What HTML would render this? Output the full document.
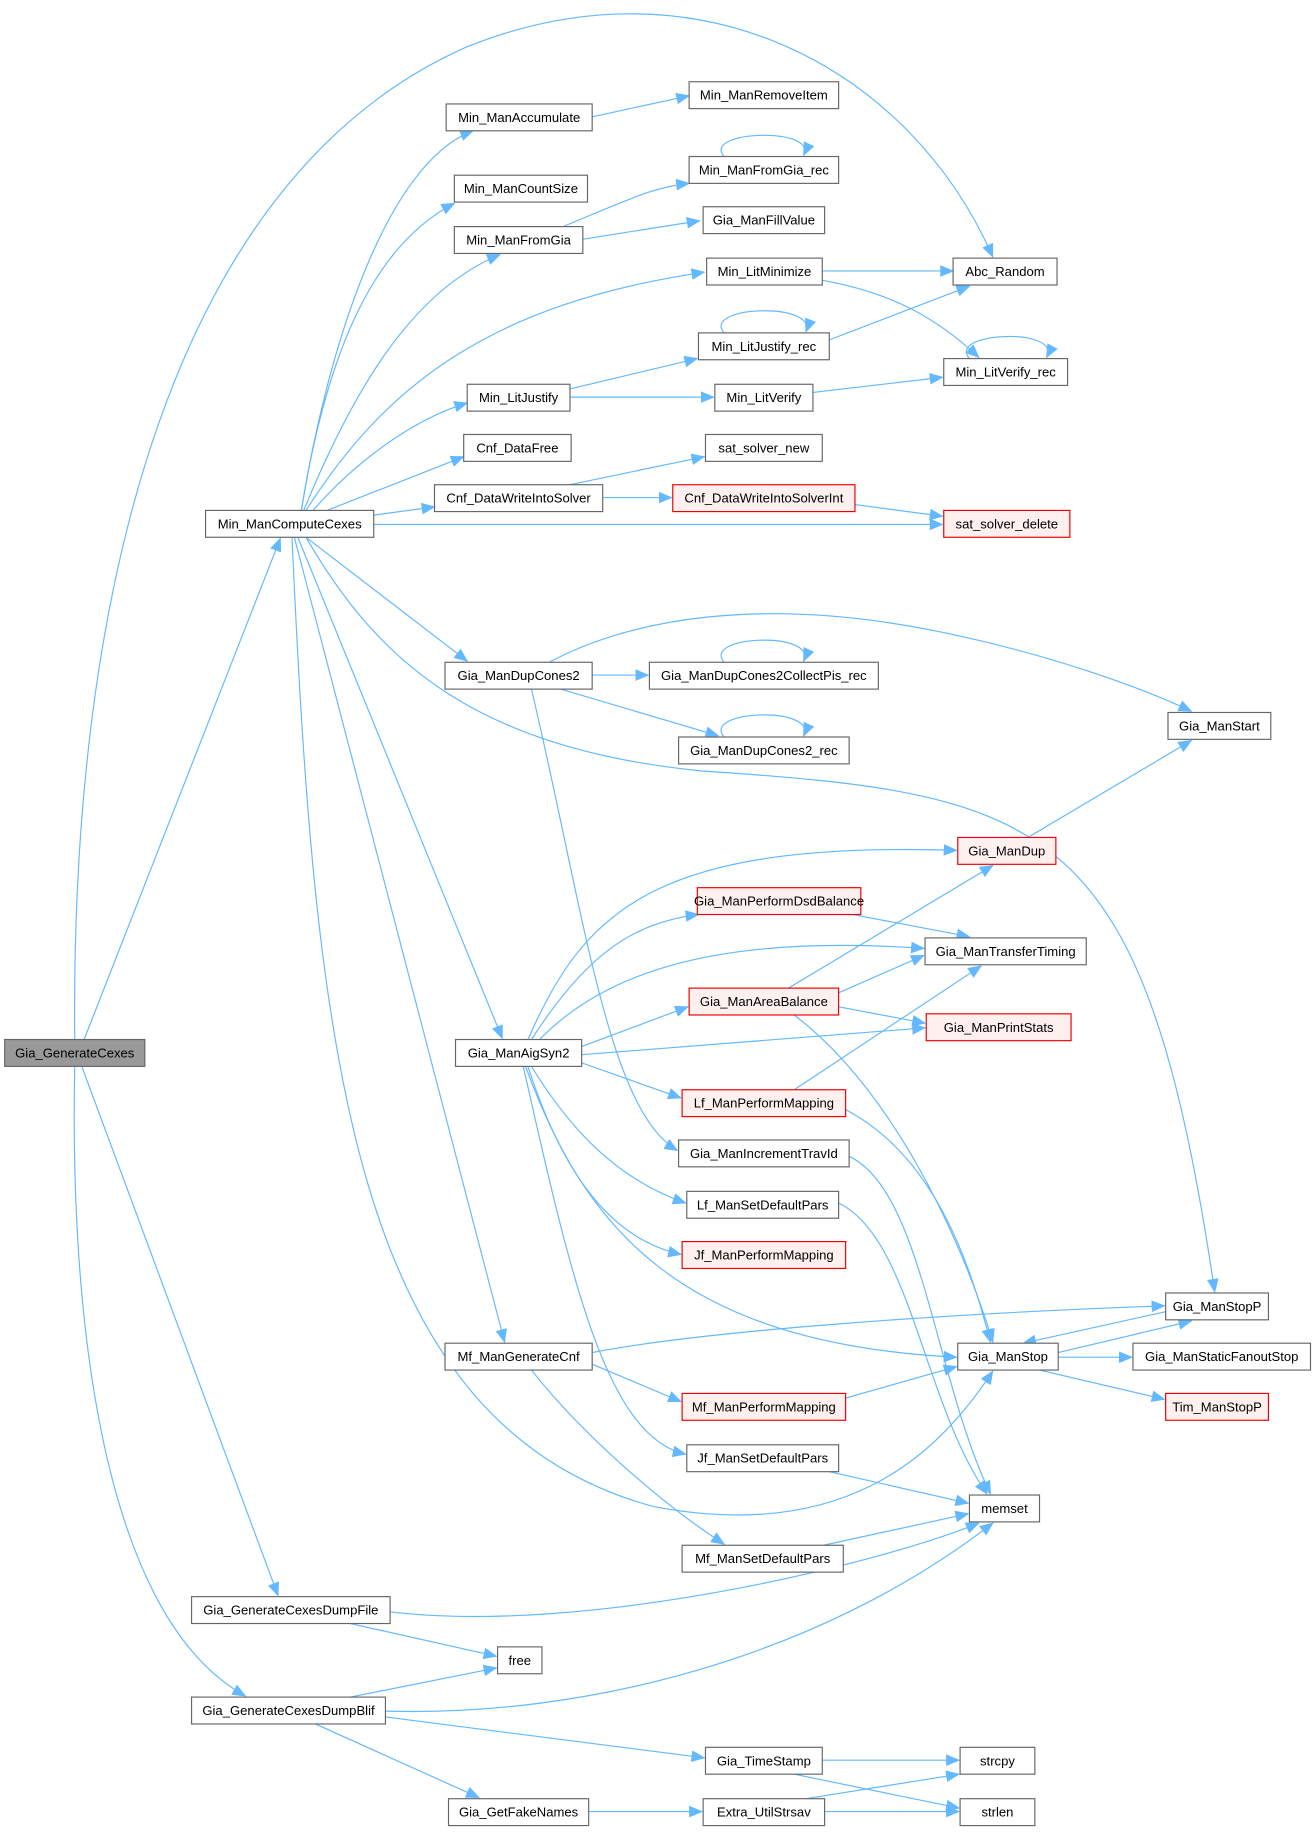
<!DOCTYPE html>
<html><head><meta charset="utf-8"><style>
html,body{margin:0;padding:0;background:#fff;}
svg{display:block;}
text{font-family:"Liberation Sans",Arial,sans-serif;font-size:11.2px;fill:#000;text-anchor:middle;dominant-baseline:central;}
.n{fill:#fff;stroke:#666;stroke-width:1;}
.r{fill:#fff0f0;stroke:#e00;stroke-width:1;}
.g{fill:#999;stroke:#666;stroke-width:1;}
path{fill:none;stroke:#63b8ff;stroke-width:1;}
</style></head><body>
<svg width="1314" height="1832" viewBox="0 0 1125 1568.5" xmlns="http://www.w3.org/2000/svg">
<defs><marker id="a" markerWidth="12" markerHeight="10" refX="11" refY="5" orient="auto" markerUnits="userSpaceOnUse"><polygon points="0,0 12,5 0,10" fill="#63b8ff"/></marker></defs>
<g marker-end="url(#a)">
<path d="M64,890 C60,500 150,150 400,40 C600,-40 780,60 850,220"/>
<path d="M72,890 L240,461"/>
<path d="M70,913 L238,1366"/>
<path d="M64,913 C60,1100 80,1380 210,1452"/>
<path d="M258,437 C280,300 330,140 405,112"/>
<path d="M258,437 C280,300 320,210 389,174"/>
<path d="M260,437 C300,340 350,250 428,218"/>
<path d="M262,437 C330,330 420,260 603,233"/>
<path d="M268,437 C300,400 350,360 400,345"/>
<path d="M280,437 L397,391"/>
<path d="M320,441 L372,434"/>
<path d="M320,449 L807,449"/>
<path d="M262,460 L400,566"/>
<path d="M262,460 C320,560 400,640 600,660 C900,680 980,700 1040,1106"/>
<path d="M255,460 L430,889"/>
<path d="M252,460 L432,1149"/>
<path d="M250,460 C270,900 300,1220 560,1290 C720,1320 800,1250 850,1174"/>
<path d="M507,100 L590,82"/>
<path d="M482,194 C540,170 560,160 590,157"/>
<path d="M498,205 L599,189"/>
<path d="M620,134 C600,112 700,108 688,133"/>
<path d="M704,232 L816,232"/>
<path d="M704,240 C760,250 800,270 838,306"/>
<path d="M620,285 C600,262 700,258 690,284"/>
<path d="M710,291 L830,245"/>
<path d="M488,333 L597,307"/>
<path d="M488,340 L611,340"/>
<path d="M830,307 C810,284 910,280 896,306"/>
<path d="M696,336 L807,323"/>
<path d="M488,415 L603,391"/>
<path d="M516,426 L575,426"/>
<path d="M732,432 L807,442"/>
<path d="M470,567 C540,530 650,510 800,540 C900,560 980,590 1020,609"/>
<path d="M507,578 L555,578"/>
<path d="M480,590 L615,630"/>
<path d="M620,567 C600,544 700,540 688,566"/>
<path d="M620,631 C600,608 700,604 688,630"/>
<path d="M455,590 C500,780 520,950 580,985"/>
<path d="M880,717 L1020,634"/>
<path d="M452,890 C500,780 560,720 819,728"/>
<path d="M455,890 C500,820 540,790 598,783"/>
<path d="M462,890 C520,830 620,800 791,812"/>
<path d="M498,896 L589,862"/>
<path d="M498,903 L792,880"/>
<path d="M498,910 L583,940"/>
<path d="M455,913 C490,970 530,1010 587,1030"/>
<path d="M452,913 C480,1000 520,1060 583,1074"/>
<path d="M450,913 C500,1050 580,1150 819,1162"/>
<path d="M448,913 C490,1100 520,1230 587,1245"/>
<path d="M730,783 L830,802"/>
<path d="M675,846 L850,741"/>
<path d="M718,850 L791,818"/>
<path d="M718,862 L792,876"/>
<path d="M680,869 C760,930 820,1050 850,1149"/>
<path d="M680,933 L840,827"/>
<path d="M724,950 C800,990 830,1080 848,1149"/>
<path d="M727,990 C790,1020 800,1180 848,1279"/>
<path d="M718,1030 C780,1060 790,1200 845,1279"/>
<path d="M998,1123 L876,1150"/>
<path d="M906,1158 L1020,1131"/>
<path d="M906,1162 L969,1162"/>
<path d="M890,1173 L997,1198"/>
<path d="M507,1158 C600,1140 800,1125 997,1118"/>
<path d="M507,1168 L583,1200"/>
<path d="M455,1173 C500,1230 570,1290 620,1322"/>
<path d="M724,1197 L819,1170"/>
<path d="M710,1260 L829,1287"/>
<path d="M705,1323 L829,1296"/>
<path d="M334,1380 C500,1400 750,1340 838,1304"/>
<path d="M300,1390 L425,1418"/>
<path d="M300,1453 L425,1428"/>
<path d="M330,1465 C500,1470 700,1420 850,1304"/>
<path d="M330,1470 L603,1505"/>
<path d="M270,1476 L410,1539"/>
<path d="M704,1507 L821,1507"/>
<path d="M680,1519 L821,1548"/>
<path d="M504,1551 L601,1551"/>
<path d="M690,1540 L821,1519"/>
<path d="M706,1551 L821,1551"/>
</g>
<g>
<rect class="g" x="4" y="890" width="120" height="23"/><text x="64" y="901.5">Gia_GenerateCexes</text>
<rect class="n" x="176" y="437" width="144" height="23"/><text x="248" y="448.5">Min_ManComputeCexes</text>
<rect class="n" x="382" y="89" width="125" height="23"/><text x="444.5" y="100.5">Min_ManAccumulate</text>
<rect class="n" x="590" y="70" width="128" height="23"/><text x="654" y="81.5">Min_ManRemoveItem</text>
<rect class="n" x="389" y="150" width="114" height="23"/><text x="446" y="161.5">Min_ManCountSize</text>
<rect class="n" x="590" y="134" width="128" height="23"/><text x="654" y="145.5">Min_ManFromGia_rec</text>
<rect class="n" x="389" y="194" width="110" height="23"/><text x="444" y="205.5">Min_ManFromGia</text>
<rect class="n" x="602" y="177" width="104" height="23"/><text x="654" y="188.5">Gia_ManFillValue</text>
<rect class="n" x="605" y="221" width="99" height="23"/><text x="654.5" y="232.5">Min_LitMinimize</text>
<rect class="n" x="816" y="221" width="89" height="23"/><text x="860.5" y="232.5">Abc_Random</text>
<rect class="n" x="598" y="285" width="112" height="23"/><text x="654" y="296.5">Min_LitJustify_rec</text>
<rect class="n" x="400" y="329" width="88" height="23"/><text x="444" y="340.5">Min_LitJustify</text>
<rect class="n" x="612" y="329" width="84" height="23"/><text x="654" y="340.5">Min_LitVerify</text>
<rect class="n" x="808" y="307" width="106" height="23"/><text x="861" y="318.5">Min_LitVerify_rec</text>
<rect class="n" x="397" y="372" width="92" height="23"/><text x="443" y="383.5">Cnf_DataFree</text>
<rect class="n" x="604" y="372" width="100" height="23"/><text x="654" y="383.5">sat_solver_new</text>
<rect class="n" x="372" y="415" width="144" height="23"/><text x="444" y="426.5">Cnf_DataWriteIntoSolver</text>
<rect class="r" x="576" y="415" width="156" height="23"/><text x="654" y="426.5">Cnf_DataWriteIntoSolverInt</text>
<rect class="r" x="808" y="437" width="108" height="23"/><text x="862" y="448.5">sat_solver_delete</text>
<rect class="n" x="381" y="567" width="126" height="23"/><text x="444" y="578.5">Gia_ManDupCones2</text>
<rect class="n" x="556" y="567" width="196" height="23"/><text x="654" y="578.5">Gia_ManDupCones2CollectPis_rec</text>
<rect class="n" x="581" y="631" width="146" height="23"/><text x="654" y="642.5">Gia_ManDupCones2_rec</text>
<rect class="n" x="1000" y="610" width="88" height="23"/><text x="1044" y="621.5">Gia_ManStart</text>
<rect class="r" x="820" y="717" width="84" height="23"/><text x="862" y="728.5">Gia_ManDup</text>
<rect class="r" x="597" y="760" width="140" height="23"/><text x="667" y="771.5">Gia_ManPerformDsdBalance</text>
<rect class="n" x="792" y="803" width="138" height="23"/><text x="861" y="814.5">Gia_ManTransferTiming</text>
<rect class="r" x="590" y="846" width="128" height="23"/><text x="654" y="857.5">Gia_ManAreaBalance</text>
<rect class="r" x="793" y="868" width="124" height="23"/><text x="855" y="879.5">Gia_ManPrintStats</text>
<rect class="n" x="390" y="890" width="108" height="23"/><text x="444" y="901.5">Gia_ManAigSyn2</text>
<rect class="r" x="584" y="933" width="140" height="23"/><text x="654" y="944.5">Lf_ManPerformMapping</text>
<rect class="n" x="581" y="976" width="146" height="23"/><text x="654" y="987.5">Gia_ManIncrementTravId</text>
<rect class="n" x="588" y="1020" width="130" height="23"/><text x="653" y="1031.5">Lf_ManSetDefaultPars</text>
<rect class="r" x="584" y="1063" width="140" height="23"/><text x="654" y="1074.5">Jf_ManPerformMapping</text>
<rect class="n" x="998" y="1107" width="88" height="23"/><text x="1042" y="1118.5">Gia_ManStopP</text>
<rect class="n" x="381" y="1150" width="126" height="23"/><text x="444" y="1161.5">Mf_ManGenerateCnf</text>
<rect class="n" x="820" y="1150" width="86" height="23"/><text x="863" y="1161.5">Gia_ManStop</text>
<rect class="n" x="970" y="1150" width="152" height="23"/><text x="1046" y="1161.5">Gia_ManStaticFanoutStop</text>
<rect class="r" x="584" y="1193" width="140" height="23"/><text x="654" y="1204.5">Mf_ManPerformMapping</text>
<rect class="r" x="998" y="1193" width="88" height="23"/><text x="1042" y="1204.5">Tim_ManStopP</text>
<rect class="n" x="588" y="1237" width="130" height="23"/><text x="653" y="1248.5">Jf_ManSetDefaultPars</text>
<rect class="n" x="830" y="1280" width="60" height="23"/><text x="860" y="1291.5">memset</text>
<rect class="n" x="584" y="1323" width="138" height="23"/><text x="653" y="1334.5">Mf_ManSetDefaultPars</text>
<rect class="n" x="164" y="1367" width="170" height="23"/><text x="249" y="1378.5">Gia_GenerateCexesDumpFile</text>
<rect class="n" x="426" y="1410" width="38" height="23"/><text x="445" y="1421.5">free</text>
<rect class="n" x="164" y="1453" width="166" height="23"/><text x="247" y="1464.5">Gia_GenerateCexesDumpBlif</text>
<rect class="n" x="604" y="1496" width="100" height="23"/><text x="654" y="1507.5">Gia_TimeStamp</text>
<rect class="n" x="822" y="1496" width="64" height="23"/><text x="854" y="1507.5">strcpy</text>
<rect class="n" x="384" y="1540" width="120" height="23"/><text x="444" y="1551.5">Gia_GetFakeNames</text>
<rect class="n" x="602" y="1540" width="104" height="23"/><text x="654" y="1551.5">Extra_UtilStrsav</text>
<rect class="n" x="822" y="1540" width="64" height="23"/><text x="854" y="1551.5">strlen</text>
</g>
</svg>
</body></html>
